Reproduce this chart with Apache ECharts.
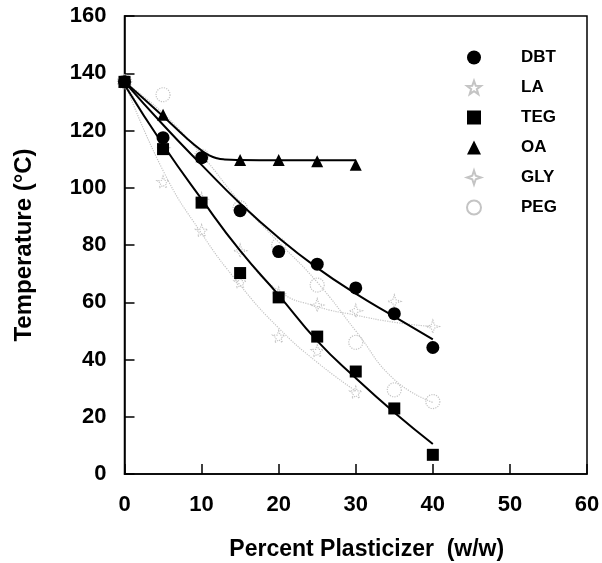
<!DOCTYPE html>
<html lang="en">
<head>
    <meta charset="utf-8">
    <title>Temperature vs Percent Plasticizer</title>
    <script src="https://cdn.jsdelivr.net/npm/echarts@6/dist/echarts.min.js"></script>
    <style>
        html, body { margin: 0; padding: 0; background: #fff; }
        #main { width: 602px; height: 563px; }
    </style>
</head>
<body>
<div id="main"></div>
<script>
    // percent plasticizer (w/w)
    var xs = [0, 5, 10, 15, 20, 25, 30, 35, 40];

    // measured points
    var dbt = [137, 117.5, 110.5, 92, 77.7, 73.3, 65, 56, 44.2];
    var teg = [137, 113.5, 94.8, 70.2, 61.7, 48, 35.8, 22.9, 6.7];
    var oa = [137, 125.5, 111, 109.7, 109.7, 109.3, 108];
    var la = [137, 102, 85, 67, 48, 43, 28.5];
    var gly = [137, 114, 96, 78, 63, 59, 57, 60.3, 51.5];
    var peg = [137, 132.5, 111, 93, 80, 66, 46, 29.4, 25.3];

    // fitted curves
    var dbtFit = [137, 122, 108, 94.5, 82.5, 72, 63, 55, 47];
    var tegFit = [136, 115, 96, 78, 62.5, 46.5, 33.5, 21.5, 10.5];
    var oaFitX = [0, 5, 8, 10, 11, 12, 13, 15, 20, 25, 30];
    var oaFit = [137, 125, 117.5, 113, 111.3, 110.3, 109.9, 109.7, 109.6, 109.6, 109.6];
    var laFit = [137, 106, 84, 66, 51, 39, 29];
    var glyFit = [137, 115, 96, 78, 64, 58.5, 55.5, 53, 51.5];
    var pegFit = [137, 126, 111.5, 95, 81, 67, 50, 33, 25];

    var legendNames = ['DBT', 'LA', 'TEG', 'OA', 'GLY', 'PEG'];

    var FONT = 'Arial, "Liberation Sans", sans-serif';
    var GRAY = '#c4c4c4';
    var starPath = 'path://M0,-10L2.4,-3.3L9.5,-3.1L3.8,1.2L5.9,8.1L0,4L-5.9,8.1L-3.8,1.2L-9.5,-3.1L-2.4,-3.3Z';
    var crossPath = 'path://M0,-10L2.5,-2.5L10,0L2.5,2.5L0,10L-2.5,2.5L-10,0L-2.5,-2.5Z';

    function pairs(xv, yv) {
        var out = [];
        for (var i = 0; i < yv.length; i++) {
            out.push([xv[i], yv[i]]);
        }
        return out;
    }

    function fitLine(name, xv, yv, color, type, width) {
        return {
            name: name,
            type: 'line',
            data: pairs(xv, yv),
            smooth: true,
            showSymbol: false,
            silent: true,
            lineStyle: { color: color, width: width, type: type, opacity: 1 },
            z: type === 'solid' ? 4 : 2
        };
    }

    function grayPoints(name, yv, symbol, size) {
        return {
            name: name,
            type: 'scatter',
            data: pairs(xs, yv),
            symbol: symbol,
            symbolSize: size,
            itemStyle: { color: 'rgba(255,255,255,0)', borderColor: GRAY, borderWidth: 1.2, borderType: 'dotted', opacity: 1 },
            z: 3
        };
    }

    function blackPoints(name, yv, symbol, size) {
        return {
            name: name,
            type: 'scatter',
            data: pairs(xs, yv),
            symbol: symbol,
            symbolSize: size,
            itemStyle: { color: '#000', opacity: 1 },
            z: 5
        };
    }

    var myChart = echarts.init(document.getElementById('main'));
    var option = {
        animation: false,
        backgroundColor: '#fff',
        textStyle: { fontFamily: FONT },
        grid: {
            left: 124.5, right: 15, top: 16, bottom: 89,
            outerBoundsMode: 'none',
            containLabel: false,
            show: true, borderColor: '#000', borderWidth: 1.5, backgroundColor: 'transparent'
        },
        legend: {
            data: legendNames,
            orient: 'vertical',
            left: 466,
            top: 49,
            padding: 0,
            itemWidth: 14,
            itemHeight: 14,
            itemGap: 13,
            textStyle: { fontFamily: FONT, fontSize: 17, fontWeight: 'bold', color: '#000', lineHeight: 17, padding: [0, 0, 0, 35] },
            selectedMode: false
        },
        xAxis: {
            type: 'value',
            min: 0, max: 60, interval: 10,
            name: 'Percent Plasticizer  (w/w)',
            nameLocation: 'middle',
            nameGap: 64,
            nameTextStyle: { fontFamily: FONT, fontSize: 23, fontWeight: 'bold', color: '#000', padding: [0, 0, 0, 22] },
            axisLine: { lineStyle: { color: '#000', width: 1.5 } },
            axisTick: { inside: true, length: 10, lineStyle: { color: '#000', width: 1.5 } },
            axisLabel: { fontFamily: FONT, fontSize: 22, fontWeight: 'bold', color: '#000', margin: 20 },
            splitLine: { show: false }
        },
        yAxis: {
            type: 'value',
            min: 0, max: 160, interval: 20,
            name: 'Temperature (°C)',
            nameLocation: 'middle',
            nameGap: 88,
            nameTextStyle: { fontFamily: FONT, fontSize: 24, fontWeight: 'bold', color: '#000' },
            axisLine: { lineStyle: { color: '#000', width: 1.5 } },
            axisTick: { inside: true, length: 10, lineStyle: { color: '#000', width: 1.5 } },
            axisLabel: { fontFamily: FONT, fontSize: 22, fontWeight: 'bold', color: '#000', margin: 18 },
            splitLine: { show: false }
        },
        series: [
            fitLine('LA fit', xs, laFit, GRAY, 'dotted', 1.2),
            fitLine('GLY fit', xs, glyFit, GRAY, 'dotted', 1.2),
            fitLine('PEG fit', xs, pegFit, GRAY, 'dotted', 1.2),
            grayPoints('LA', la, starPath, 12),
            grayPoints('GLY', gly, crossPath, 13),
            grayPoints('PEG', peg, 'circle', 14),
            fitLine('DBT fit', xs, dbtFit, '#000', 'solid', 2),
            fitLine('TEG fit', xs, tegFit, '#000', 'solid', 2),
            fitLine('OA fit', oaFitX, oaFit, '#000', 'solid', 2),
            blackPoints('DBT', dbt, 'circle', 13),
            blackPoints('TEG', teg, 'rect', 12),
            blackPoints('OA', oa, 'triangle', 12)
        ]
    };
    myChart.setOption(option);
</script>
</body>
</html>
